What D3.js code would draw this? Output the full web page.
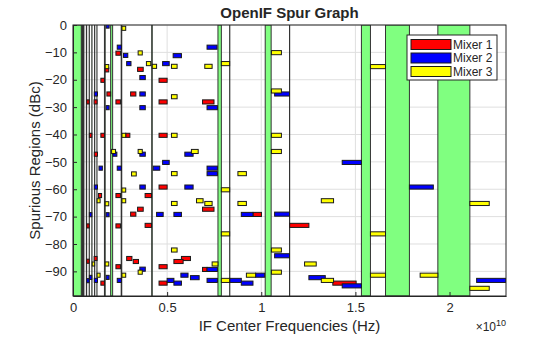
<!DOCTYPE html>
<html>
<head>
<meta charset="utf-8">
<script src="https://cdn.jsdelivr.net/npm/d3@7"></script>
<style>
  body { margin: 0; background: #fff; }
  text { font-family: "Liberation Sans", Arial, sans-serif; fill: #262626; }
</style>
</head>
<body>
<div id="chart"></div>
<script>
// frequencies in GHz, levels in dBc
const mixerNames = ["Mixer 1", "Mixer 2", "Mixer 3"];
const mixerColors = ["#ff0000", "#0000ff", "#ffff00"];
const xTicks = [0, 5, 10, 15, 20];
const yTicks = [-90, -80, -70, -60, -50, -40, -30, -20, -10, 0];

// spur free zones [start, stop]
const freeZones = [
    [0, 0.44], [0.46, 0.51], [0.55, 0.58], [0.71, 0.725], [0.86, 0.87], [1.0, 1.01],
    [1.145, 1.155], [1.27, 1.275], [1.67, 1.71], [2.0, 2.105], [2.56, 2.59],
    [4.18, 4.21], [7.70, 7.88], [8.32, 8.33], [10.21, 10.525], [11.50, 11.51],
    [15.32, 15.80], [16.60, 17.87], [19.38, 21.08]
];

// spurs [start, stop, level]
const mixer1Spurs = [
    [0.73, 0.86, -28.1], [0.73, 0.86, -73.4], [0.73, 0.86, -86.3], [0.87, 1.0, -40.3],
    [1.12, 1.28, -28.1], [1.13, 1.30, -47.2], [1.12, 1.28, -85.3], [1.35, 1.52, -62.3],
    [1.48, 1.67, -20.2], [1.48, 1.67, -40.3], [1.48, 1.67, -94.3], [1.71, 1.90, -16.4],
    [1.80, 2.0, -25.2], [2.28, 2.52, -10.3], [2.28, 2.52, -28.1], [2.28, 2.52, -62.3],
    [2.28, 2.52, -73.4], [2.28, 2.52, -88.3], [2.80, 3.02, -40.3], [3.06, 3.34, -25.2],
    [3.06, 3.34, -69.1], [2.85, 3.13, -85.3], [3.20, 3.48, -86.4], [3.43, 3.73, -16.2],
    [3.43, 3.73, -67.3], [3.83, 4.17, -62.3], [3.83, 4.17, -73.2], [4.57, 5.0, -20.2],
    [4.57, 5.0, -28.1], [4.57, 5.0, -40.3], [4.57, 5.0, -59.2], [4.57, 5.0, -88.3],
    [4.57, 5.0, -94.3], [6.88, 7.49, -28.1], [6.88, 7.49, -67.3], [6.88, 7.12, -89.3],
    [5.76, 6.24, -85.3], [5.36, 5.85, -86.4], [9.56, 10.01, -69.2], [11.51, 12.53, -73.2],
    [13.80, 15.04, -94.3]
];

const mixer2Spurs = [
    [1.76, 1.92, -0.4], [2.35, 2.57, -8.1], [2.68, 2.91, -11.1], [2.85, 3.08, -14.1],
    [3.55, 3.84, -19.2], [1.13, 1.30, -25.2], [3.55, 3.84, -25.2], [1.76, 1.92, -30.2],
    [3.55, 3.84, -30.2], [2.12, 2.33, -47.2], [3.55, 3.84, -47.2], [1.38, 1.56, -52.3],
    [2.35, 2.57, -52.3], [4.26, 4.61, -52.3], [1.13, 1.30, -59.2], [3.55, 3.84, -59.2],
    [0.87, 1.0, -69.3], [1.76, 1.92, -69.3], [4.44, 4.79, -69.2], [5.36, 5.76, -69.2],
    [8.94, 9.56, -69.2], [3.55, 3.84, -89.2], [1.76, 1.92, -92.2], [0.87, 1.0, -92.2],
    [2.35, 2.57, -93.3], [1.13, 1.30, -93.3], [0.73, 0.86, -93.4], [7.12, 7.65, -8.1],
    [5.32, 5.76, -11.2], [4.76, 5.11, -14.1], [7.12, 7.67, -30.2], [5.94, 6.38, -47.2],
    [4.76, 5.11, -50.2], [7.12, 7.67, -52.3], [7.12, 7.67, -54.3], [5.94, 6.38, -59.2],
    [7.12, 7.67, -89.3], [5.73, 6.11, -91.4], [6.24, 6.70, -92.3], [5.0, 5.36, -93.3],
    [5.36, 5.76, -94.3], [7.12, 7.67, -93.3], [8.33, 8.94, -93.3], [8.94, 9.56, -94.3],
    [9.70, 10.18, -91.4], [10.71, 11.50, -25.2], [10.71, 11.50, -69.1], [10.71, 11.50, -84.3],
    [14.30, 15.32, -50.2], [12.53, 13.40, -92.3], [14.30, 15.32, -95.3], [17.87, 19.14, -59.2],
    [21.44, 23.0, -93.3]
];

const mixer3Spurs = [
    [2.60, 2.80, -1.2], [3.46, 3.68, -10.2], [3.90, 4.13, -14.1], [4.21, 4.44, -15.1],
    [1.71, 1.90, -15.2], [5.23, 5.53, -15.1], [7.0, 7.39, -15.1], [7.88, 8.32, -14.1],
    [5.23, 5.53, -26.2], [2.60, 2.80, -40.3], [5.23, 5.53, -40.3], [2.05, 2.26, -46.2],
    [3.46, 3.68, -46.2], [6.29, 6.65, -46.2], [3.11, 3.36, -54.4], [5.23, 5.53, -54.3],
    [8.76, 9.21, -54.3], [2.60, 2.80, -60.3], [7.88, 8.32, -60.2], [2.60, 2.80, -64.2],
    [1.28, 1.44, -64.2], [6.56, 6.91, -64.2], [1.71, 1.90, -65.3], [5.23, 5.53, -65.2],
    [7.0, 7.39, -65.2], [8.76, 9.21, -65.2], [7.88, 8.32, -76.3], [5.23, 5.53, -82.2],
    [1.02, 1.15, -87.3], [1.71, 1.90, -87.3], [7.39, 7.70, -87.3], [3.46, 3.68, -90.3],
    [1.28, 1.44, -91.4], [2.60, 2.80, -91.4], [7.88, 8.32, -93.3], [9.21, 9.70, -91.4],
    [10.54, 11.07, -10.1], [10.54, 11.07, -24.1], [10.54, 11.07, -40.3], [10.54, 11.07, -46.2],
    [10.54, 11.07, -82.2], [10.54, 11.07, -90.3], [13.19, 13.84, -64.2], [12.30, 12.92, -87.3],
    [13.19, 13.84, -93.3], [15.80, 16.60, -15.2], [15.80, 16.60, -76.3], [15.80, 16.60, -91.4],
    [21.08, 22.11, -65.2], [18.44, 19.38, -91.4], [21.08, 22.11, -96.2]
];

const spurSets = [mixer1Spurs, mixer2Spurs, mixer3Spurs];

const width = 560, height = 337;
const margin = {top: 25, right: 54, bottom: 41, left: 73};

const svg = d3.select("#chart").append("svg")
    .attr("width", width)
    .attr("height", height);

const x = d3.scaleLinear()
    .domain([0, 23])
    .range([margin.left, width - margin.right]);

const y = d3.scaleLinear()
    .domain([-99, 0])
    .range([height - margin.bottom, margin.top]);

svg.append("defs").append("clipPath").attr("id", "plotClip")
    .append("rect")
        .attr("x", x(0)).attr("y", y(0))
        .attr("width", x(23) - x(0)).attr("height", y(-99) - y(0));

// grid
svg.append("g")
    .attr("stroke", "#dfdfdf")
    .call(g => g.selectAll(".vg").data(xTicks).join("line")
        .attr("x1", d => x(d)).attr("x2", d => x(d))
        .attr("y1", y(0)).attr("y2", y(-99)))
    .call(g => g.selectAll(".hg").data(yTicks).join("line")
        .attr("x1", x(0)).attr("x2", x(23))
        .attr("y1", d => y(d)).attr("y2", d => y(d)));

const plot = svg.append("g").attr("clip-path", "url(#plotClip)");

plot.append("g").selectAll("rect")
    .data(freeZones)
    .join("rect")
        .attr("x", d => x(d[0]))
        .attr("width", d => Math.max(x(d[1]) - x(d[0]), 0.1))
        .attr("y", y(0))
        .attr("height", y(-99) - y(0))
        .attr("fill", "#80ff80")
        .attr("stroke", "#333")
        .attr("stroke-width", 1);

spurSets.forEach((spurs, i) => {
    plot.append("g").selectAll("rect")
        .data(spurs)
        .join("rect")
            .attr("x", d => x(d[0]))
            .attr("width", d => x(d[1]) - x(d[0]))
            .attr("y", d => y(d[2] + 0.75))
            .attr("height", d => y(d[2] - 0.75) - y(d[2] + 0.75))
            .attr("fill", mixerColors[i])
            .attr("stroke", "#1a1a1a")
            .attr("stroke-width", 1);
});

// axes
svg.append("g")
    .attr("transform", `translate(0,${y(-99)})`)
    .call(d3.axisBottom(x).tickValues(xTicks).tickFormat(d => d / 10)
        .tickSizeInner(-4).tickSizeOuter(0).tickPadding(7))
    .call(g => g.selectAll("text").attr("font-size", 13).attr("font-family", null));

svg.append("g")
    .attr("transform", `translate(${x(0)},0)`)
    .call(d3.axisLeft(y).tickValues(yTicks)
        .tickSizeInner(-4).tickSizeOuter(0).tickPadding(6))
    .call(g => g.selectAll("text").attr("font-size", 13).attr("font-family", null));

svg.selectAll(".domain").attr("stroke", "#262626");
svg.selectAll(".tick line").attr("stroke", "#262626");

svg.append("rect")
    .attr("x", x(0)).attr("y", y(0))
    .attr("width", x(23) - x(0)).attr("height", y(-99) - y(0))
    .attr("fill", "none")
    .attr("stroke", "#262626");

// labels
svg.append("text")
    .attr("x", (x(0) + x(23)) / 2).attr("y", 18)
    .attr("text-anchor", "middle")
    .attr("font-size", 15).attr("font-weight", "bold")
    .text("OpenIF Spur Graph");

svg.append("text")
    .attr("x", (x(0) + x(23)) / 2).attr("y", 331)
    .attr("text-anchor", "middle")
    .attr("font-size", 15)
    .text("IF Center Frequencies (Hz)");

svg.append("text")
    .attr("x", x(23)).attr("y", 331)
    .attr("text-anchor", "end")
    .attr("font-size", 12)
    .call(t => t.append("tspan").text("×10"))
    .call(t => t.append("tspan").attr("font-size", 9).attr("dy", -5).text("10"));

svg.append("text")
    .attr("transform", `translate(40,${(y(0) + y(-99)) / 2}) rotate(-90)`)
    .attr("text-anchor", "middle")
    .attr("font-size", 15)
    .text("Spurious Regions (dBc)");

// legend
const legend = svg.append("g").attr("transform", "translate(407,35)");
legend.append("rect")
    .attr("width", 90).attr("height", 45)
    .attr("fill", "#fff").attr("stroke", "#262626");
legend.selectAll(".item")
    .data(mixerNames)
    .join("g")
        .attr("transform", (_, i) => `translate(4,${4.5 + i * 13.5})`)
        .call(g => g.append("rect")
            .attr("width", 40).attr("height", 10)
            .attr("fill", (_, i) => mixerColors[i])
            .attr("stroke", "#1a1a1a"))
        .call(g => g.append("text")
            .attr("x", 42).attr("y", 5)
            .attr("dy", "0.35em")
            .attr("font-size", 12)
            .text(d => d));
</script>
</body>
</html>
